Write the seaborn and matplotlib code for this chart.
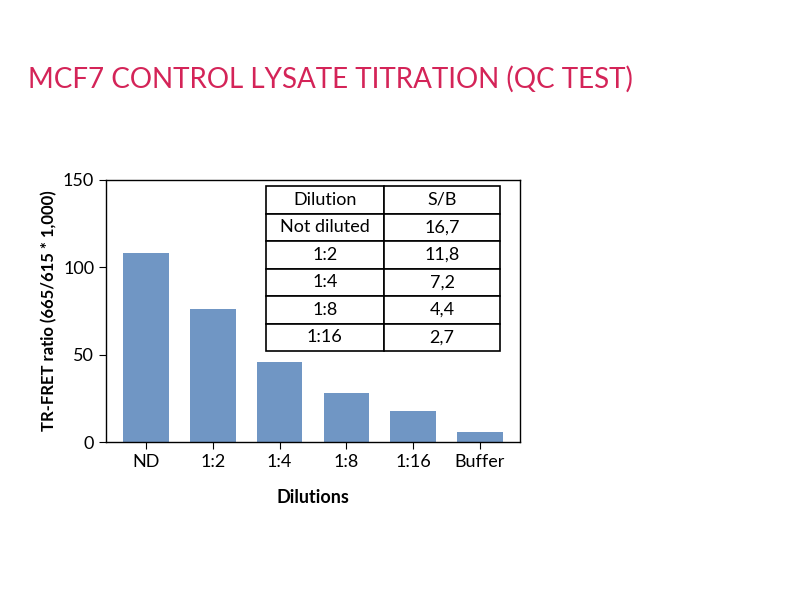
import matplotlib
matplotlib.use("Agg")
import matplotlib.pyplot as plt
import seaborn as sns
import pandas as pd

dilutions = ["ND", "1:2", "1:4", "1:8", "1:16", "Buffer"]
ratios = [108, 76, 46, 28, 18, 6]

table_header = ["Dilution", "S/B"]
table_dilution = ["Not diluted", "1:2", "1:4", "1:8", "1:16"]
table_sb = ["16,7", "11,8", "7,2", "4,4", "2,7"]

df = pd.DataFrame({"dilution": dilutions, "ratio": ratios})

plt.rcParams["font.family"] = "Montserrat, Lato, DejaVu Sans".split(", ")[1]
fig = plt.figure(figsize=(8, 6), dpi=100)
ax = fig.add_axes([0.1325, 0.263, 0.5175, 0.437])

sns.barplot(data=df, x="dilution", y="ratio", color="#7096c4", saturation=1,
            width=0.68, ax=ax)

ax.set_ylim(0, 150)
ax.set_yticks([0, 50, 100, 150])
ax.set_xlim(-0.6, 5.6)
ax.tick_params(labelsize=13, length=5)
ax.set_xlabel("Dilutions", fontsize=13, fontweight="bold", labelpad=14)
ax.set_ylabel("TR-FRET ratio (665/615 * 1,000)", fontsize=12, fontweight="bold")
for s in ax.spines.values():
    s.set_linewidth(1)

cells = [[d, s] for d, s in zip(table_dilution, table_sb)]
tbl = ax.table(cellText=cells, colLabels=table_header, cellLoc="center",
               bbox=[0.386, 0.347, 0.566, 0.63], colWidths=[0.504, 0.496])
tbl.auto_set_font_size(False)
tbl.set_fontsize(13)
for c in tbl.get_celld().values():
    c.set_linewidth(1.2)
    c.set_facecolor("white")

fig.text(0.035, 0.868, "MCF7 CONTROL LYSATE TITRATION (QC TEST)", fontsize=20,
         color="#d42458", va="center")

fig.savefig("out.png", dpi=100)
